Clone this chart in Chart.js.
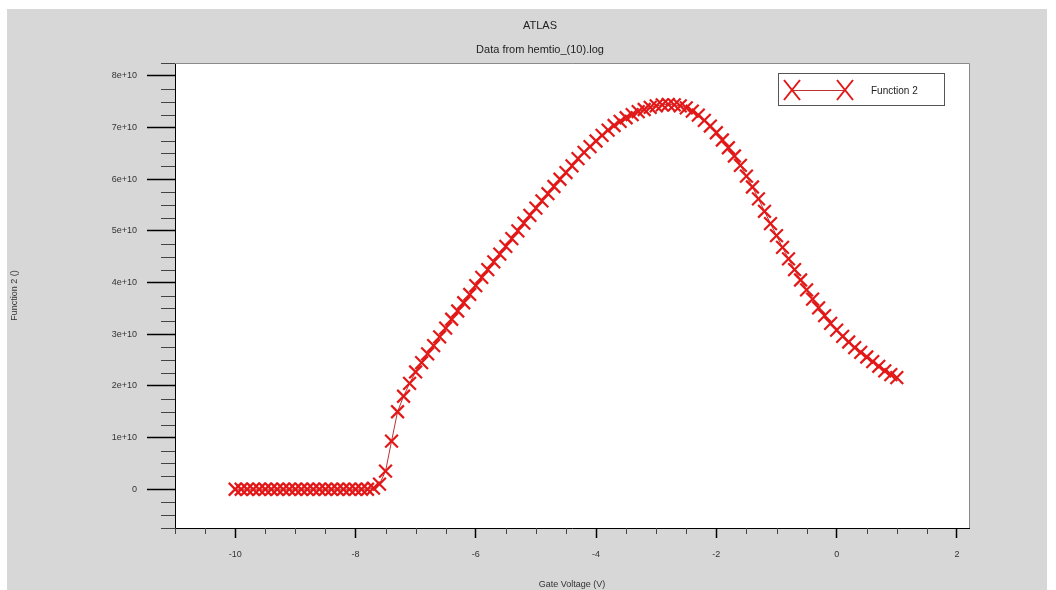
<!DOCTYPE html>
<html>
<head>
<meta charset="utf-8">
<title>ATLAS - Data from hemtio_(10).log</title>
<script src="https://cdn.jsdelivr.net/npm/chart.js@4.4.1/dist/chart.umd.min.js"></script>
<style>
  html, body { margin: 0; padding: 0; background: #fff; }
  #wrap { width: 1056px; height: 590px; }
</style>
</head>
<body>
<div id="wrap"><canvas id="atlasChart" width="1056" height="590"></canvas></div>
<script>
// Gate Voltage (V) sweep
const gateVoltage = [
  -10.0, -9.9, -9.8, -9.7, -9.6, -9.5, -9.4, -9.3, -9.2, -9.1,
  -9.0, -8.9, -8.8, -8.7, -8.6, -8.5, -8.4, -8.3, -8.2, -8.1,
  -8.0, -7.9, -7.8, -7.7, -7.6, -7.5, -7.4, -7.3, -7.2, -7.1,
  -7.0, -6.9, -6.8, -6.7, -6.6, -6.5, -6.4, -6.3, -6.2, -6.1,
  -6.0, -5.9, -5.8, -5.7, -5.6, -5.5, -5.4, -5.3, -5.2, -5.1,
  -5.0, -4.9, -4.8, -4.7, -4.6, -4.5, -4.4, -4.3, -4.2, -4.1,
  -4.0, -3.9, -3.8, -3.7, -3.6, -3.5, -3.4, -3.3, -3.2, -3.1,
  -3.0, -2.9, -2.8, -2.7, -2.6, -2.5, -2.4, -2.3, -2.2, -2.1,
  -2.0, -1.9, -1.8, -1.7, -1.6, -1.5, -1.4, -1.3, -1.2, -1.1,
  -1.0, -0.9, -0.8, -0.7, -0.6, -0.5, -0.4, -0.3, -0.2, -0.1,
  0.0, 0.1, 0.2, 0.3, 0.4, 0.5, 0.6, 0.7, 0.8, 0.9,
  1.0
];

// Function 2, in units of 1e+10
const function2 = [
  0, 0, 0, 0, 0, 0, 0, 0, 0, 0,
  0, 0, 0, 0, 0, 0, 0, 0, 0, 0,
  0, 0, 0, 0.02, 0.1, 0.35, 0.93, 1.5, 1.8, 2.05,
  2.27, 2.45, 2.62, 2.78, 2.95, 3.12, 3.29, 3.45, 3.61, 3.77,
  3.94, 4.1, 4.25, 4.4, 4.55, 4.7, 4.85, 5.0, 5.15, 5.3,
  5.44, 5.58, 5.72, 5.86, 6.0, 6.13, 6.26, 6.4, 6.52, 6.63,
  6.74, 6.85, 6.95, 7.04, 7.12, 7.19, 7.25, 7.31, 7.35, 7.39,
  7.42, 7.44, 7.45, 7.44, 7.42, 7.38, 7.32, 7.24, 7.14, 7.03,
  6.9, 6.76, 6.61, 6.45, 6.27, 6.06, 5.85, 5.62, 5.38, 5.14,
  4.91, 4.68, 4.46, 4.25, 4.05, 3.86, 3.68, 3.51, 3.36, 3.21,
  3.08, 2.96, 2.85, 2.74, 2.65, 2.56, 2.47, 2.38, 2.29, 2.22,
  2.16
];
const UNIT = 1e10;

const xTickValues = [-10, -8, -6, -4, -2, 0, 2];
const xTickLabels = ['-10', '-8', '-6', '-4', '-2', '0', '2'];
const yTickValues = [0, 1e10, 2e10, 3e10, 4e10, 5e10, 6e10, 7e10, 8e10];
const yTickLabels = ['0', '1e+10', '2e+10', '3e+10', '4e+10', '5e+10', '6e+10', '7e+10', '8e+10'];

const FONT = '"Liberation Sans", Arial, sans-serif';
const RED = 'rgb(226, 24, 24)';
const LINE_RED = 'rgb(190, 50, 50)';

function drawX(ctx, x, y, hx, hy) {
  ctx.beginPath();
  ctx.moveTo(x - hx, y - hy); ctx.lineTo(x + hx, y + hy);
  ctx.moveTo(x + hx, y - hy); ctx.lineTo(x - hx, y + hy);
  ctx.stroke();
}

const atlasFrame = {
  id: 'atlasFrame',
  beforeDraw(chart) {
    const ctx = chart.ctx, a = chart.chartArea;
    ctx.save();
    ctx.fillStyle = '#ffffff';
    ctx.fillRect(0, 0, chart.width, chart.height);
    ctx.fillStyle = '#d7d7d7';
    ctx.fillRect(7, 9, 1040, 581);
    ctx.fillStyle = '#ffffff';
    ctx.fillRect(a.left, a.top, a.right - a.left, a.bottom - a.top);
    ctx.restore();
  },
  afterDraw(chart) {
    const ctx = chart.ctx, a = chart.chartArea;
    const xs = chart.scales.x, ys = chart.scales.y;
    ctx.save();

    // top / right edges of the plot box
    ctx.strokeStyle = '#8a8a8a';
    ctx.lineWidth = 1;
    ctx.beginPath();
    ctx.moveTo(a.left, a.top + 0.5); ctx.lineTo(a.right + 0.5, a.top + 0.5);
    ctx.lineTo(a.right + 0.5, a.bottom);
    ctx.stroke();

    // minor ticks
    ctx.strokeStyle = '#444';
    ctx.beginPath();
    for (let v = -11; v <= 2.2; v += 0.5) {
      if (Math.abs(v / 2 - Math.round(v / 2)) < 1e-6) continue;
      const px = Math.round(xs.getPixelForValue(v)) + 0.5;
      ctx.moveTo(px, a.bottom); ctx.lineTo(px, a.bottom + 6);
    }
    for (let k = -3; k <= 33; k++) {
      if (k % 4 === 0) continue;
      const py = Math.round(ys.getPixelForValue(k * 0.25e10)) + 0.5;
      ctx.moveTo(a.left, py); ctx.lineTo(a.left - 14, py);
    }
    ctx.stroke();

    // titles
    ctx.fillStyle = '#222';
    ctx.textAlign = 'center';
    ctx.textBaseline = 'middle';
    ctx.font = '11px ' + FONT;
    ctx.fillText('ATLAS', 540, 26);
    ctx.fillText('Data from hemtio_(10).log', 540, 50);

    // legend box
    ctx.fillStyle = '#ffffff';
    ctx.fillRect(778, 73, 166, 32);
    ctx.strokeStyle = '#555';
    ctx.strokeRect(778.5, 73.5, 166, 32);
    ctx.strokeStyle = LINE_RED;
    ctx.lineWidth = 1;
    ctx.beginPath();
    ctx.moveTo(792, 90.5); ctx.lineTo(845, 90.5);
    ctx.stroke();
    ctx.strokeStyle = RED;
    ctx.lineWidth = 2;
    drawX(ctx, 792, 90, 8, 10);
    drawX(ctx, 845, 90, 8, 10);
    ctx.fillStyle = '#222';
    ctx.textAlign = 'left';
    ctx.font = '10px ' + FONT;
    ctx.fillText(chart.data.datasets[0].label, 871, 91);
    ctx.restore();
  }
};

const tickFont = { family: FONT, size: 9 };

new Chart(document.getElementById('atlasChart').getContext('2d'), {
  type: 'line',
  data: {
    datasets: [{
      label: 'Function 2',
      data: gateVoltage.map((v, i) => ({ x: v, y: function2[i] * UNIT })),
      borderColor: LINE_RED,
      borderWidth: 1,
      tension: 0,
      pointStyle: 'crossRot',
      pointRadius: 9,
      pointBorderWidth: 2.2,
      pointBorderColor: RED,
      pointBackgroundColor: RED
    }]
  },
  options: {
    responsive: false,
    animation: false,
    layout: { padding: { left: 0, right: 87, top: 63, bottom: 0 } },
    plugins: {
      legend: { display: false },
      title: { display: false },
      tooltip: { enabled: false }
    },
    scales: {
      x: {
        type: 'linear',
        min: -11,
        max: 2.2,
        afterBuildTicks: (axis) => { axis.ticks = xTickValues.map(v => ({ value: v })); },
        afterFit: (axis) => { axis.height = 62; },
        ticks: {
          callback: (v, i) => xTickLabels[i],
          autoSkip: false,
          maxRotation: 0,
          padding: 11,
          color: '#333',
          font: tickFont
        },
        grid: { drawOnChartArea: false, drawTicks: true, tickLength: 10, tickColor: '#000', tickWidth: 1.5 },
        border: { display: true, color: '#000', width: 1 },
        title: { display: true, text: 'Gate Voltage (V)', color: '#333', font: tickFont, padding: { top: 0, bottom: 0 } }
      },
      y: {
        type: 'linear',
        min: -0.75e10,
        max: 8.25e10,
        afterBuildTicks: (axis) => { axis.ticks = yTickValues.map(v => ({ value: v })); },
        afterFit: (axis) => { axis.width = 175; },
        ticks: {
          callback: (v, i) => yTickLabels[i],
          autoSkip: false,
          padding: 10,
          color: '#333',
          font: tickFont
        },
        grid: { drawOnChartArea: false, drawTicks: true, tickLength: 28, tickColor: '#000', tickWidth: 1.5 },
        border: { display: true, color: '#000', width: 1 },
        title: { display: true, text: 'Function 2 ()', color: '#333', font: tickFont, padding: { top: 9, bottom: 0 } }
      }
    }
  },
  plugins: [atlasFrame]
});
</script>
</body>
</html>
